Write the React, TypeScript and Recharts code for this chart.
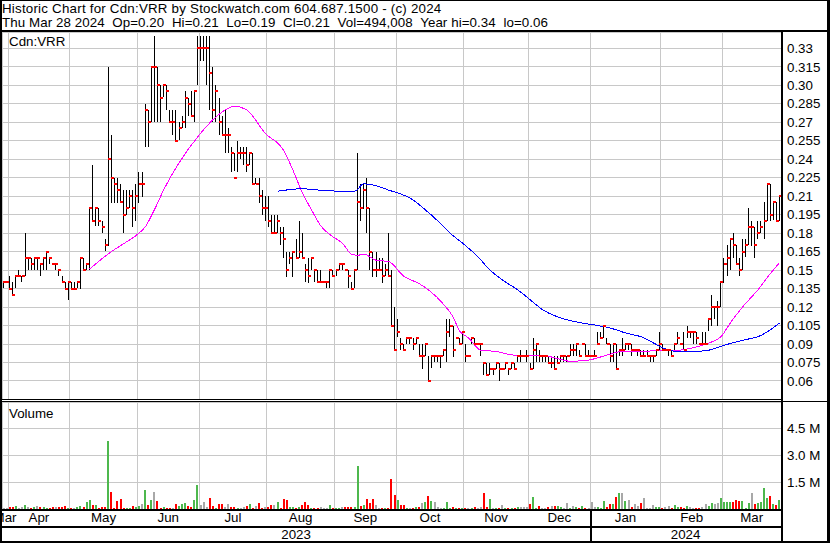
import React from 'react';
import { ComposedChart, Bar, Line, Scatter, XAxis, YAxis, CartesianGrid, Cell } from 'recharts';

const FONT = 'Arial, "Liberation Sans", Helvetica, sans-serif';
const FS = 13.33;

// ---------- categories ----------
const monthLabels = ['Mar', 'Apr', 'May', 'Jun', 'Jul', 'Aug', 'Sep', 'Oct', 'Nov', 'Dec', 'Jan', 'Feb', 'Mar'];
const monthStarts = [0, 2, 22, 44, 64, 86, 108, 128, 150, 171, 191, 214, 234];
const yearLabels = ['2023', '2024'];
const yearStarts = [0, 191];

// ---------- price series (one entry per trading day) ----------
const highs = [
  0.14, 0.14,
  0.145, 0.14, 0.145, 0.15, 0.145, 0.18, 0.16, 0.16, 0.16, 0.16, 0.155, 0.16, 0.165, 0.16, 0.155, 0.155, 0.15, 0.145, 0.14, 0.14,
  0.14, 0.14, 0.14, 0.16, 0.16, 0.155, 0.2, 0.235, 0.2, 0.2, 0.19, 0.175, 0.315, 0.26, 0.225, 0.225, 0.22, 0.215, 0.215, 0.215, 0.215, 0.22,
  0.23, 0.23, 0.285, 0.28, 0.315, 0.34, 0.315, 0.3, 0.3, 0.3, 0.28, 0.28, 0.28, 0.27, 0.275, 0.295, 0.29, 0.295, 0.295, 0.34,
  0.34, 0.34, 0.34, 0.34, 0.315, 0.3, 0.29, 0.275, 0.28, 0.265, 0.25, 0.245, 0.255, 0.25, 0.25, 0.25, 0.245, 0.245, 0.225, 0.225, 0.215, 0.21,
  0.21, 0.195, 0.195, 0.195, 0.185, 0.185, 0.165, 0.165, 0.165, 0.175, 0.19, 0.18, 0.155, 0.16, 0.16, 0.15, 0.15, 0.15, 0.14, 0.14, 0.15, 0.15,
  0.15, 0.155, 0.155, 0.15, 0.15, 0.14, 0.15, 0.245, 0.22, 0.22, 0.225, 0.2, 0.165, 0.165, 0.16, 0.16, 0.155, 0.18, 0.15, 0.12,
  0.11, 0.095, 0.09, 0.095, 0.095, 0.095, 0.095, 0.09, 0.09, 0.09, 0.08, 0.08, 0.08, 0.08, 0.08, 0.085, 0.11, 0.11, 0.105, 0.095, 0.095, 0.1,
  0.09, 0.08, 0.095, 0.095, 0.09, 0.09, 0.075, 0.075, 0.075, 0.07, 0.075, 0.075, 0.07, 0.075, 0.07, 0.075, 0.075, 0.08, 0.085, 0.08, 0.085,
  0.075, 0.095, 0.09, 0.085, 0.08, 0.08, 0.08, 0.08, 0.08, 0.08, 0.08, 0.08, 0.08, 0.09, 0.09, 0.09, 0.085, 0.09, 0.09, 0.085,
  0.08, 0.085, 0.1, 0.1, 0.105, 0.095, 0.09, 0.09, 0.09, 0.085, 0.095, 0.09, 0.09, 0.09, 0.085, 0.085, 0.085, 0.085, 0.085, 0.08, 0.08, 0.085, 0.1,
  0.09, 0.085, 0.085, 0.085, 0.09, 0.1, 0.09, 0.1, 0.105, 0.1, 0.1, 0.1, 0.09, 0.1, 0.1, 0.11, 0.13, 0.12, 0.125, 0.14,
  0.16, 0.17, 0.175, 0.18, 0.17, 0.16, 0.175, 0.175, 0.2, 0.19, 0.185, 0.19, 0.19, 0.205, 0.22, 0.22, 0.205, 0.205, 0.21,
];
const lows = [
  0.135, 0.14,
  0.135, 0.13, 0.135, 0.145, 0.14, 0.145, 0.15, 0.15, 0.15, 0.15, 0.145, 0.15, 0.15, 0.155, 0.155, 0.15, 0.145, 0.14, 0.135, 0.125,
  0.135, 0.135, 0.135, 0.135, 0.15, 0.15, 0.15, 0.19, 0.185, 0.185, 0.18, 0.165, 0.17, 0.205, 0.205, 0.205, 0.205, 0.18, 0.195, 0.2, 0.185, 0.19,
  0.205, 0.21, 0.25, 0.25, 0.27, 0.27, 0.27, 0.27, 0.29, 0.28, 0.27, 0.26, 0.255, 0.255, 0.265, 0.265, 0.275, 0.275, 0.27, 0.3,
  0.32, 0.32, 0.3, 0.28, 0.27, 0.27, 0.26, 0.26, 0.245, 0.245, 0.23, 0.23, 0.23, 0.24, 0.235, 0.23, 0.235, 0.22, 0.22, 0.205, 0.195, 0.19,
  0.185, 0.18, 0.18, 0.18, 0.17, 0.16, 0.145, 0.155, 0.145, 0.16, 0.16, 0.16, 0.14, 0.14, 0.15, 0.14, 0.14, 0.14, 0.14, 0.135, 0.135, 0.145,
  0.145, 0.15, 0.15, 0.15, 0.135, 0.135, 0.135, 0.15, 0.19, 0.2, 0.18, 0.15, 0.145, 0.145, 0.15, 0.14, 0.145, 0.145, 0.105, 0.085,
  0.095, 0.085, 0.085, 0.09, 0.09, 0.085, 0.09, 0.08, 0.07, 0.08, 0.06, 0.07, 0.075, 0.075, 0.07, 0.08, 0.075, 0.095, 0.08, 0.095, 0.09, 0.09,
  0.075, 0.08, 0.09, 0.09, 0.09, 0.08, 0.065, 0.065, 0.065, 0.065, 0.07, 0.06, 0.07, 0.07, 0.065, 0.07, 0.07, 0.075, 0.075, 0.08, 0.075,
  0.07, 0.07, 0.075, 0.075, 0.075, 0.075, 0.075, 0.07, 0.07, 0.075, 0.075, 0.075, 0.075, 0.08, 0.08, 0.08, 0.08, 0.09, 0.08, 0.08,
  0.08, 0.08, 0.09, 0.095, 0.095, 0.09, 0.075, 0.075, 0.07, 0.08, 0.08, 0.085, 0.085, 0.08, 0.085, 0.08, 0.08, 0.08, 0.08, 0.075, 0.075, 0.08, 0.085,
  0.085, 0.085, 0.08, 0.08, 0.085, 0.09, 0.09, 0.085, 0.095, 0.095, 0.09, 0.09, 0.09, 0.09, 0.09, 0.1, 0.105, 0.11, 0.105, 0.12,
  0.14, 0.145, 0.15, 0.16, 0.155, 0.145, 0.15, 0.16, 0.17, 0.17, 0.16, 0.175, 0.18, 0.175, 0.19, 0.19, 0.19, 0.19, 0.19,
];
const closes = [
  0.14, 0.14,
  0.135, 0.13, 0.145, 0.145, 0.145, 0.16, 0.16, 0.155, 0.16, 0.16, 0.155, 0.16, 0.165, 0.16, 0.155, 0.155, 0.15, 0.14, 0.135, 0.14,
  0.135, 0.135, 0.14, 0.16, 0.15, 0.155, 0.2, 0.19, 0.2, 0.19, 0.185, 0.17, 0.24, 0.225, 0.22, 0.215, 0.205, 0.195, 0.2, 0.21, 0.2, 0.21,
  0.22, 0.22, 0.28, 0.27, 0.315, 0.315, 0.3, 0.29, 0.3, 0.295, 0.27, 0.27, 0.255, 0.265, 0.27, 0.29, 0.285, 0.275, 0.295, 0.33,
  0.33, 0.33, 0.33, 0.31, 0.28, 0.295, 0.27, 0.26, 0.26, 0.26, 0.245, 0.225, 0.245, 0.245, 0.245, 0.235, 0.245, 0.22, 0.22, 0.21, 0.2, 0.2,
  0.19, 0.18, 0.18, 0.19, 0.18, 0.175, 0.15, 0.16, 0.165, 0.16, 0.165, 0.16, 0.15, 0.145, 0.16, 0.15, 0.14, 0.14, 0.14, 0.14, 0.15, 0.145,
  0.15, 0.155, 0.155, 0.15, 0.145, 0.135, 0.15, 0.205, 0.2, 0.215, 0.2, 0.165, 0.15, 0.15, 0.15, 0.145, 0.15, 0.145, 0.105, 0.085,
  0.1, 0.09, 0.085, 0.095, 0.095, 0.09, 0.095, 0.08, 0.08, 0.09, 0.06, 0.08, 0.08, 0.08, 0.08, 0.085, 0.1, 0.105, 0.085, 0.095, 0.09, 0.1,
  0.08, 0.08, 0.095, 0.09, 0.09, 0.09, 0.075, 0.065, 0.07, 0.07, 0.075, 0.07, 0.07, 0.075, 0.07, 0.075, 0.07, 0.08, 0.08, 0.08, 0.08,
  0.07, 0.085, 0.09, 0.08, 0.08, 0.08, 0.075, 0.075, 0.07, 0.075, 0.08, 0.08, 0.08, 0.085, 0.085, 0.09, 0.08, 0.09, 0.08, 0.08,
  0.08, 0.08, 0.09, 0.095, 0.105, 0.09, 0.08, 0.09, 0.07, 0.085, 0.085, 0.09, 0.09, 0.085, 0.085, 0.085, 0.08, 0.08, 0.08, 0.08, 0.08, 0.085, 0.09,
  0.085, 0.085, 0.085, 0.08, 0.09, 0.095, 0.09, 0.085, 0.1, 0.1, 0.1, 0.095, 0.09, 0.09, 0.09, 0.11, 0.12, 0.12, 0.12, 0.14,
  0.155, 0.16, 0.175, 0.17, 0.155, 0.15, 0.165, 0.17, 0.185, 0.185, 0.17, 0.18, 0.185, 0.19, 0.22, 0.195, 0.205, 0.19, 0.21,
];
// volume, millions of shares
const volumes = [
  0.06, 0.08,
  0.12, 0.1, 0.15, 0.08, 0.1, 0.25, 0.1, 0.08, 0.12, 0.18, 0.1, 0.1, 0.08, 0.06, 0.1, 0.14, 0.1, 0.12, 0.16, 0.05,
  0.05, 0.06, 0.1, 0.15, 0.1, 0.42, 0.5, 0.25, 0.25, 0.08, 0.1, 0.12, 3.8, 0.96, 0.06, 0.45, 0.55, 0.06, 0.06, 0.06, 0.17, 0.12,
  0.17, 0.26, 1.07, 0.25, 0.5, 0.96, 0.45, 0.06, 0.1, 0.06, 0.06, 0.06, 0.26, 0.17, 0.26, 0.32, 0.17, 0.12, 0.5, 1.36,
  0.25, 0.4, 0.12, 0.62, 0.17, 0.06, 0.26, 0.28, 0.12, 0.28, 0.12, 0.12, 0.06, 0.06, 0.12, 0.17, 0.28, 0.06, 0.17, 0.32, 0.06, 0.12,
  0.12, 0.2, 0.2, 0.4, 0.06, 0.56, 0.5, 0.12, 0.12, 0.06, 0.12, 0.2, 0.4, 0.25, 0.06, 0.06, 0.06, 0.12, 0.06, 0.06, 0.25, 0.06,
  0.06, 0.06, 0.12, 0.12, 0.12, 0.12, 0.12, 2.43, 0.17, 0.2, 0.56, 0.35, 0.56, 0.25, 0.06, 0.06, 0.06, 0.06, 1.71, 0.8,
  0.49, 0.25, 0.25, 0.06, 0.06, 0.06, 0.12, 0.12, 0.36, 0.4, 0.75, 0.47, 0.4, 0.12, 0.06, 0.06, 0.4, 0.06, 0.12, 0.06, 0.06, 0.06,
  0.06, 0.06, 0.06, 0.12, 0.06, 0.12, 0.92, 0.12, 0.58, 0.06, 0.06, 0.06, 0.25, 0.06, 0.06, 0.06, 0.06, 0.12, 0.12, 0.12, 0.12,
  0.28, 0.68, 0.06, 0.17, 0.06, 0.06, 0.12, 0.17, 0.17, 0.17, 0.12, 0.06, 0.36, 0.06, 0.17, 0.12, 0.06, 0.17, 0.06, 0.06,
  0.4, 0.12, 0.12, 0.06, 0.45, 0.12, 0.26, 0.26, 0.7, 0.89, 0.89, 0.45, 0.49, 0.12, 0.28, 0.17, 0.32, 0.64, 0.06, 0.06, 0.23, 0.12, 0.12,
  0.06, 0.12, 0.17, 0.06, 0.23, 0.12, 0.12, 0.06, 0.17, 0.12, 0.06, 0.06, 0.06, 0.12, 0.26, 0.17, 0.32, 0.26, 0.32, 0.64,
  0.4, 0.4, 0.4, 0.4, 0.5, 0.45, 0.45, 0.06, 0.36, 0.89, 0.3, 0.36, 0.4, 1.19, 0.64, 0.73, 0.3, 0.25, 0.49,
];

// moving averages: [trading-day index, value]
const maShort: [number, number][] = [
  [28, 0.151], [35, 0.165], [40, 0.173], [44, 0.18], [46, 0.185], [49, 0.199], [52, 0.215], [57, 0.237],
  [64, 0.261], [68, 0.272], [72, 0.28], [75, 0.283], [79, 0.28], [85, 0.261], [91, 0.247], [94, 0.231],
  [97, 0.213], [100, 0.199], [103, 0.186], [107, 0.177], [110, 0.172], [113, 0.163], [115, 0.162], [117, 0.163],
  [121, 0.158], [125, 0.157], [130, 0.145], [135, 0.139], [138, 0.134], [143, 0.122], [146, 0.112], [148, 0.101],
  [151, 0.095], [155, 0.085], [160, 0.084], [166, 0.081], [171, 0.081], [175, 0.081], [180, 0.078], [184, 0.076],
  [190, 0.077], [196, 0.081], [201, 0.084], [208, 0.084], [213, 0.085], [219, 0.085], [224, 0.087], [228, 0.09],
  [233, 0.096], [236, 0.107], [240, 0.12], [245, 0.134], [249, 0.147], [252, 0.156],
];
const maLong: [number, number][] = [
  [89, 0.214], [97, 0.216], [102, 0.215], [110, 0.214], [114, 0.214], [117, 0.22], [120, 0.219], [125, 0.215],
  [133, 0.207], [136, 0.201], [141, 0.19], [145, 0.18], [149, 0.172], [154, 0.161], [158, 0.15], [162, 0.142],
  [167, 0.134], [171, 0.126], [175, 0.118], [180, 0.112], [184, 0.109], [188, 0.107], [193, 0.105], [197, 0.103],
  [202, 0.099], [208, 0.095], [211, 0.091], [214, 0.087], [219, 0.084], [224, 0.084], [229, 0.085], [234, 0.089],
  [240, 0.093], [246, 0.097], [252, 0.107],
];

// ---------- axis ticks ----------
const priceTicks = [0.06, 0.075, 0.09, 0.105, 0.12, 0.135, 0.15, 0.165, 0.18, 0.195, 0.21, 0.225, 0.24, 0.255, 0.27, 0.285, 0.3, 0.315, 0.33];
const priceTickLabels = ['0.06', '0.075', '0.09', '0.105', '0.12', '0.135', '0.15', '0.165', '0.18', '0.195', '0.21', '0.225', '0.24', '0.255', '0.27', '0.285', '0.30', '0.315', '0.33'];
const volTicks = [1.5, 3, 4.5];
const volTickLabels = ['1.5 M', '3.0 M', '4.5 M'];

const titleLine1 = 'Historic Chart for Cdn:VRR by Stockwatch.com 604.687.1500 - (c) 2024';
const titleLine2 = 'Thu Mar 28 2024  Op=0.20  Hi=0.21  Lo=0.19  Cl=0.21  Vol=494,008  Year hi=0.34  lo=0.06';

// ---------- derived tables ----------
const N = closes.length;
const shortMap = new Map(maShort);
const longMap = new Map(maLong);
const rows = closes.map((c, i) => ({
  i,
  hl: [lows[i], highs[i]],
  close: c,
  vol: volumes[i],
  maS: shortMap.has(i) ? shortMap.get(i) : null,
  maL: longMap.has(i) ? longMap.get(i) : null,
}));
const volColor = (i: number) =>
  i === 0 || closes[i] === closes[i - 1] ? '#a8a8a8' : closes[i] > closes[i - 1] ? '#4db84d' : '#ff0000';

const boundaries = monthStarts.slice(1).map((s) => s - 0.5);
const monthCenters = monthStarts.map((s, k) => ((s + (k + 1 < monthStarts.length ? monthStarts[k + 1] : N)) / 2) - 0.5);
const yearCenters = yearStarts.map((s, k) => ((s + (k + 1 < yearStarts.length ? yearStarts[k + 1] : N)) / 2) - 0.5);
const yearBoundary = yearStarts[1] - 0.5;

const priceLabel = (v: number) => {
  const k = priceTicks.findIndex((t) => Math.abs(t - v) < 1e-6);
  return k >= 0 ? priceTickLabels[k] : '';
};
const volLabel = (v: number) => {
  const k = volTicks.findIndex((t) => Math.abs(t - v) < 1e-6);
  return k >= 0 ? volTickLabels[k] : '';
};
const monthLabel = (v: number) => {
  const k = monthCenters.findIndex((t) => Math.abs(t - v) < 1e-6);
  return k >= 0 ? monthLabels[k] : '';
};

const X_DOMAIN: [number, number] = [-0.5, N - 0.5];
const PRICE_DOMAIN: [number, number] = [0.04458, 0.34323];
const tickStyle = { fontSize: FS, fill: '#000', fontFamily: FONT };

const HLBar = (props: any) => {
  const { x, y, width, height } = props;
  if (x == null || y == null) return null;
  const cx = Math.floor(x + width / 2);
  return <rect x={cx} y={Math.round(y)} width={1} height={Math.max(1, Math.round(height))} fill="#000" />;
};
const CloseTick = (props: any) => {
  const { cx, cy } = props;
  if (cx == null || cy == null) return null;
  return <rect x={Math.floor(cx)} y={Math.round(cy) - 1} width={3} height={2} fill="#ff0000" />;
};
const VolBar = (props: any) => {
  const { x, y, width, height, fill } = props;
  if (x == null || y == null) return null;
  const cx = Math.floor(x + width / 2);
  return <rect x={cx - 1} y={Math.round(y)} width={2} height={Math.max(0, Math.round(height))} fill={fill} />;
};

const YearTick = (props: any) => {
  const { x, y, payload } = props;
  const v = payload.value;
  if (Math.abs(v - yearBoundary) < 1e-6) {
    return <rect x={Math.floor(x)} y={y - 21} width={2} height={35} fill="#000" />;
  }
  const k = yearCenters.findIndex((t) => Math.abs(t - v) < 1e-6);
  return (
    <text x={x} y={y} dy="0.71em" textAnchor="middle" style={tickStyle}>
      {k >= 0 ? yearLabels[k] : ''}
    </text>
  );
};

const Block = ({ l, t, w, h }: { l: number; t: number; w: number; h: number }) => (
  <div style={{ position: 'absolute', left: l, top: t, width: w, height: h, background: '#000' }} />
);

export default function App() {
  return (
    <div style={{ position: 'absolute', left: 0, top: 0, width: 830, height: 543, background: '#fff', overflow: 'hidden', fontFamily: FONT }}>
      <style>{`.crisp svg rect, .crisp svg line, .crisp svg path { shape-rendering: crispEdges; }`}</style>
      <div style={{ position: 'absolute', left: 2, top: 2, fontSize: FS, lineHeight: '14px', whiteSpace: 'pre', color: '#000' }}>
        <div style={{ letterSpacing: '0.22px' }}>{titleLine1}</div>
        <div style={{ letterSpacing: '0.08px' }}>{titleLine2}</div>
      </div>

      <div className="crisp" style={{ position: 'absolute', left: 0, top: 32 }}>
        <ComposedChart width={830} height={368} data={rows} margin={{ top: 0, right: 0, bottom: 0, left: 2 }}>
          <CartesianGrid stroke="#c8c8c8" strokeWidth={1} />
          <XAxis dataKey="i" type="number" domain={X_DOMAIN} ticks={boundaries} hide height={0} allowDataOverflow interval={0} />
          <YAxis
            orientation="right"
            width={49}
            domain={PRICE_DOMAIN}
            ticks={priceTicks}
            interval={0}
            tickFormatter={priceLabel}
            axisLine={false}
            tickLine={false}
            tickSize={0}
            tickMargin={6}
            tick={tickStyle}
            allowDataOverflow
          />
          <Bar dataKey="hl" shape={HLBar} isAnimationActive={false} barSize={1} />
          <Line dataKey="maS" type="monotone" stroke="#ff00ff" strokeWidth={1} dot={false} connectNulls isAnimationActive={false} />
          <Line dataKey="maL" type="monotone" stroke="#0000ff" strokeWidth={1} dot={false} connectNulls isAnimationActive={false} />
          <Scatter dataKey="close" shape={CloseTick} isAnimationActive={false} />
        </ComposedChart>
      </div>

      <div className="crisp" style={{ position: 'absolute', left: 0, top: 402 }}>
        <ComposedChart width={830} height={141} data={rows} margin={{ top: 0, right: 0, bottom: 0, left: 2 }}>
          <CartesianGrid xAxisId="grid" yAxisId="v" stroke="#c8c8c8" strokeWidth={1} />
          <XAxis
            xAxisId="m"
            dataKey="i"
            type="number"
            domain={X_DOMAIN}
            ticks={monthCenters}
            interval={0}
            tickFormatter={monthLabel}
            height={19}
            axisLine={false}
            tickLine={false}
            tickSize={0}
            tickMargin={4}
            tick={tickStyle}
          />
          <XAxis
            xAxisId="y"
            dataKey="i"
            type="number"
            domain={X_DOMAIN}
            ticks={[yearCenters[0], yearBoundary, yearCenters[1]]}
            interval={0}
            height={15}
            axisLine={false}
            tickLine={false}
            tickSize={0}
            tickMargin={2}
            tick={<YearTick />}
          />
          <XAxis xAxisId="grid" dataKey="i" type="number" domain={X_DOMAIN} ticks={boundaries} hide height={0} interval={0} />
          <YAxis
            yAxisId="v"
            orientation="right"
            width={49}
            domain={[0, 6]}
            ticks={volTicks}
            interval={0}
            tickFormatter={volLabel}
            axisLine={false}
            tickLine={false}
            tickSize={0}
            tickMargin={6}
            tick={tickStyle}
          />
          <Bar xAxisId="m" yAxisId="v" dataKey="vol" barSize={2} shape={VolBar} isAnimationActive={false}>
            {rows.map((r) => (
              <Cell key={r.i} fill={volColor(r.i)} />
            ))}
          </Bar>
        </ComposedChart>
      </div>

      <div style={{ position: 'absolute', left: 9, top: 35, fontSize: FS, lineHeight: '14px', color: '#000' }}>Cdn:VRR</div>
      <div style={{ position: 'absolute', left: 9, top: 407, fontSize: FS, lineHeight: '14px', color: '#000' }}>Volume</div>

      {/* frame */}
      <Block l={0} t={0} w={830} h={1} />
      <Block l={0} t={0} w={2} h={543} />
      <Block l={827} t={0} w={3} h={543} />
      <Block l={0} t={30} w={830} h={2} />
      <Block l={781} t={31} w={2} h={512} />
      <Block l={0} t={399} w={782} h={1} />
      <Block l={0} t={401} w={830} h={1} />
      <Block l={0} t={509} w={782} h={2} />
      <Block l={0} t={526} w={782} h={2} />
      <Block l={0} t={541} w={830} h={2} />
    </div>
  );
}
